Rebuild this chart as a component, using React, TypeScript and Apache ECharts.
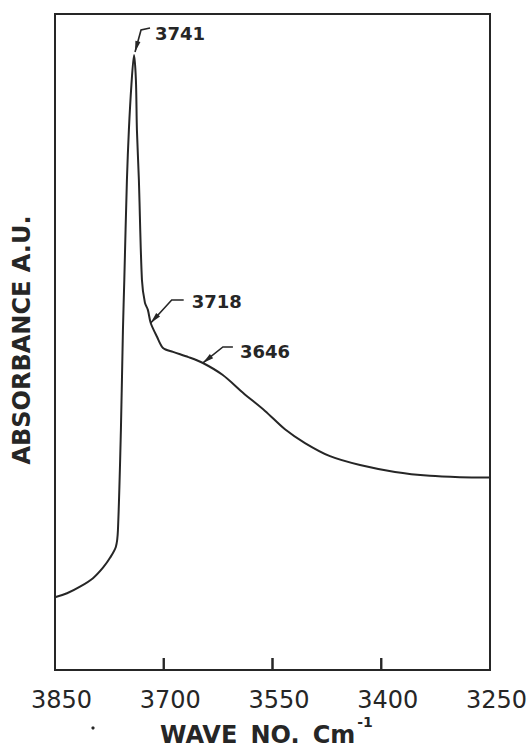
import React, { useEffect, useRef } from "react";
import * as echarts from "echarts";

// IR absorbance spectrum, OH stretching region
const wavenumber = [
  3850, 3833.4, 3815.5, 3797.6, 3783.8, 3774.1, 3766.0, 3763.2, 3759.1,
  3756.3, 3754.4, 3750.8, 3748.1, 3744.6, 3741, 3738.4, 3737.0, 3734.3,
  3730.1, 3726.0, 3721.9, 3718, 3709.3, 3701.0, 3687.2, 3666.0,
  3646, 3619.0, 3590.0, 3560.3, 3532.8, 3505.2, 3470.7, 3429.3, 3381.0,
  3332.8, 3291.4, 3250,
];
const absorbance = [
  11.1, 11.7, 12.7, 14.0, 15.6, 17.1, 18.8, 21.3, 36.6,
  51.8, 59.5, 74.7, 82.3, 89.2, 93.75, 89.9, 82.3, 74.7,
  59.5, 56.0, 54.9, 52.9, 50.8, 49.1, 48.5, 47.7,
  46.8, 45.0, 42.2, 39.5, 36.7, 34.6, 32.6, 31.25, 30.2,
  29.6, 29.4, 29.35,
];
const tickLabels = [3850, 3700, 3550, 3400, 3250];
const tickMarks = [3700, 3550, 3400];
const peakLabels = [3741, 3718, 3646];

// leader geometry for each peak label, in px relative to the labelled point
const leaders: Record<number, { tip: number[]; bend: number[]; end: number[]; text: number[] }> = {
  3741: { tip: [1, -3], bend: [7, -25], end: [16, -27], text: [21, -22] },
  3718: { tip: [0, 0], bend: [21, -23], end: [33, -23], text: [41, -21] },
  3646: { tip: [0, 0], bend: [20, -16], end: [30, -16], text: [37, -11] },
};

const INK = "#262626";
const FONT = "DejaVu Sans";
const GRID = { left: 55, right: 42, top: 14, bottom: 79 };
const TICK_LEN = 12;

function textWidth(text: string, font: string): number {
  const ctx = document.createElement("canvas").getContext("2d");
  if (!ctx) return text.length * 14;
  ctx.font = font;
  return ctx.measureText(text).width;
}

export default function App() {
  const ref = useRef<HTMLDivElement>(null);

  useEffect(() => {
    if (!ref.current) return;
    const chart = echarts.init(ref.current, null, { renderer: "svg" });
    const data = wavenumber.map((w, i) => [w, absorbance[i]]);

    chart.setOption({
      animation: false,
      backgroundColor: "#ffffff",
      grid: {
        ...GRID,
        show: true,
        borderColor: INK,
        borderWidth: 2,
        backgroundColor: "transparent",
      },
      xAxis: {
        type: "value",
        min: 3250,
        max: 3850,
        inverse: true,
        axisLine: { show: false },
        splitLine: { show: false },
        axisTick: { show: false },
        axisLabel: {
          customValues: tickLabels,
          margin: 18,
          padding: [0, 0, 0, 13],
          fontFamily: FONT,
          fontSize: 24,
          color: INK,
          formatter: (v: number) => String(v),
        },
      },
      yAxis: {
        type: "value",
        min: 0,
        max: 100,
        show: false,
      },
      series: [
        {
          type: "line",
          data,
          showSymbol: false,
          smooth: 0.3,
          lineStyle: { color: INK, width: 2 },
        },
        {
          // inward tick marks standing on the bottom frame
          type: "custom",
          silent: true,
          z: 5,
          clip: false,
          data: tickMarks.map((v) => [v, 0]),
          renderItem: (params: any, api: any) => {
            const base = api.coord([api.value(0), 0]);
            return {
              type: "rect",
              shape: { x: base[0] - 1, y: base[1] - TICK_LEN, width: 2, height: TICK_LEN },
              style: { fill: INK },
            };
          },
        },
      ],
    });

    const graphics: any[] = [];

    peakLabels.forEach((p) => {
      const idx = wavenumber.indexOf(p);
      const [px, py] = chart.convertToPixel({ gridIndex: 0 }, [p, absorbance[idx]]) as number[];
      const g = leaders[p];
      const tip = [px + g.tip[0], py + g.tip[1]];
      const bend = [px + g.bend[0], py + g.bend[1]];
      const end = [px + g.end[0], py + g.end[1]];
      graphics.push({
        type: "polyline",
        shape: { points: [tip, bend, end] },
        style: { stroke: INK, lineWidth: 1.6, fill: null },
      });
      // arrow head along the first leader segment
      const dx = bend[0] - tip[0];
      const dy = bend[1] - tip[1];
      const len = Math.hypot(dx, dy);
      const ux = dx / len;
      const uy = dy / len;
      const base = [tip[0] + ux * 11, tip[1] + uy * 11];
      graphics.push({
        type: "polygon",
        shape: {
          points: [
            tip,
            [base[0] - uy * 2.6, base[1] + ux * 2.6],
            [base[0] + uy * 2.6, base[1] - ux * 2.6],
          ],
        },
        style: { fill: INK },
      });
      graphics.push({
        type: "text",
        x: px + g.text[0],
        y: py + g.text[1],
        style: {
          text: String(p),
          fontFamily: FONT,
          fontWeight: "bold",
          fontSize: 18,
          fill: INK,
          align: "left",
          verticalAlign: "middle",
        },
      });
    });

    // the same tick marks as thin polygons, anchored on the frame bottom
    tickMarks.forEach((v) => {
      const [tx, ty] = chart.convertToPixel({ gridIndex: 0 }, [v, 0]) as number[];
      graphics.push({
        type: "polygon",
        shape: {
          points: [
            [tx - 1, ty],
            [tx + 1, ty],
            [tx + 1, ty - TICK_LEN],
            [tx - 1, ty - TICK_LEN],
          ],
        },
        style: { fill: INK },
      });
    });

    // axis titles
    graphics.push({
      type: "text",
      x: 22,
      y: 340,
      rotation: Math.PI / 2,
      style: {
        text: "ABSORBANCE A.U.",
        fontFamily: FONT,
        fontWeight: "bold",
        fontSize: 24,
        fill: INK,
        align: "center",
        verticalAlign: "middle",
      },
    });
    const xTitle = "WAVE \u2009NO. \u2009Cm";
    const xTitleWidth = textWidth(xTitle, `bold 24px "${FONT}"`);
    graphics.push({
      type: "text",
      x: 160,
      y: 735,
      style: {
        text: xTitle,
        fontFamily: FONT,
        fontWeight: "bold",
        fontSize: 24,
        fill: INK,
        align: "left",
        verticalAlign: "middle",
      },
    });
    graphics.push({
      type: "text",
      x: 160 + xTitleWidth + 2,
      y: 722,
      style: {
        text: "-1",
        fontFamily: FONT,
        fontWeight: "bold",
        fontSize: 14,
        fill: INK,
        align: "left",
        verticalAlign: "middle",
      },
    });
    graphics.push({
      type: "circle",
      shape: { cx: 93, cy: 728, r: 1.6 },
      style: { fill: INK },
    });

    chart.setOption({ graphic: graphics });

    return () => chart.dispose();
  }, []);

  return (
    <div
      ref={ref}
      style={{ position: "fixed", left: 0, top: 0, width: 532, height: 749 }}
    />
  );
}
